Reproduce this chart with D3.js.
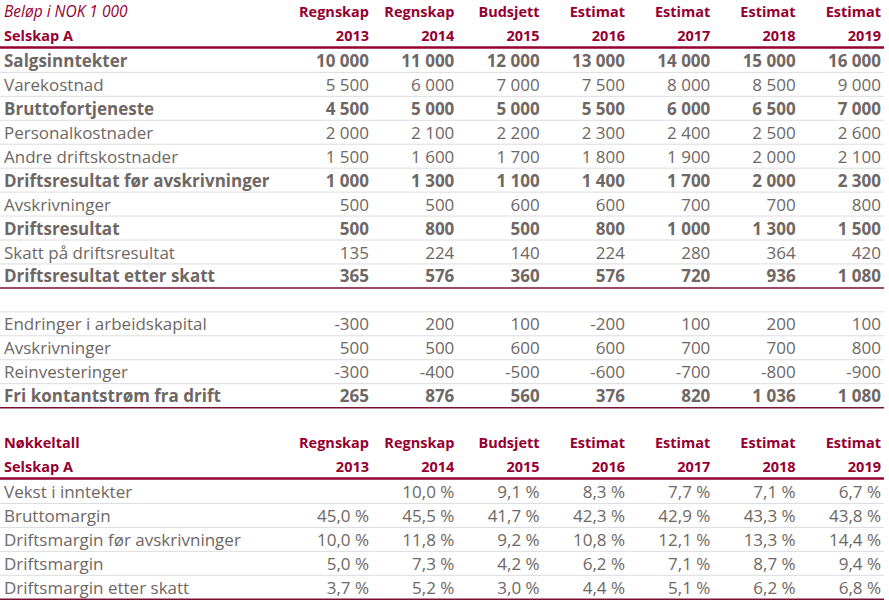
<!DOCTYPE html>
<html><head><meta charset="utf-8">
<script src="https://cdn.jsdelivr.net/npm/d3@7"></script>
<style>
body{margin:0;background:#fff;}
text{font-family:"Open Sans",sans-serif;}
</style></head>
<body><svg id="c" width="889" height="606"></svg>
<script>
const headTop = ["Regnskap","Regnskap","Budsjett","Estimat","Estimat","Estimat","Estimat"];
const years = ["2013","2014","2015","2016","2017","2018","2019"];

const resLabels = ["Salgsinntekter","Varekostnad","Bruttofortjeneste","Personalkostnader","Andre driftskostnader","Driftsresultat før avskrivninger","Avskrivninger","Driftsresultat","Skatt på driftsresultat","Driftsresultat etter skatt"];
const resBold = [1,0,1,0,0,1,0,1,0,1];
const resValues = [
 [10000,11000,12000,13000,14000,15000,16000],
 [5500,6000,7000,7500,8000,8500,9000],
 [4500,5000,5000,5500,6000,6500,7000],
 [2000,2100,2200,2300,2400,2500,2600],
 [1500,1600,1700,1800,1900,2000,2100],
 [1000,1300,1100,1400,1700,2000,2300],
 [500,500,600,600,700,700,800],
 [500,800,500,800,1000,1300,1500],
 [135,224,140,224,280,364,420],
 [365,576,360,576,720,936,1080]
];
const cfLabels = ["Endringer i arbeidskapital","Avskrivninger","Reinvesteringer","Fri kontantstrøm fra drift"];
const cfBold = [0,0,0,1];
const cfValues = [
 [-300,200,100,-200,100,200,100],
 [500,500,600,600,700,700,800],
 [-300,-400,-500,-600,-700,-800,-900],
 [265,876,560,376,820,1036,1080]
];
const kLabels = ["Vekst i inntekter","Bruttomargin","Driftsmargin før avskrivninger","Driftsmargin","Driftsmargin etter skatt"];
const kValues = [
 [null,10.0,9.1,8.3,7.7,7.1,6.7],
 [45.0,45.5,41.7,42.3,42.9,43.3,43.8],
 [10.0,11.8,9.2,10.8,12.1,13.3,14.4],
 [5.0,7.3,4.2,6.2,7.1,8.7,9.4],
 [3.7,5.2,3.0,4.4,5.1,6.2,6.8]
];

const svg = d3.select("#c");
const W = 884;
const red = "#960030", grey = "#6f6763", lineGrey = "#dcdcdc";
const x = d3.scaleBand().domain(years).range([283.7, 881]).paddingInner(0);
const colRight = y => x(y) + x.bandwidth();
const y = d3.scaleLinear().domain([0, 1]).range([0, 23.95]);
const rowTop = i => y(i);

const fmtNum = v => (v < 0 ? "-" : "") + d3.format(",")(Math.abs(v)).replace(/,/g, " ");
const fmtPct = v => v == null ? "" : d3.format(".1f")(v).replace(".", ",") + " %";

const HS = 14.5, BS = 17;
function header(r0, l1, l2, l1Italic){
  const g = svg.append("g");
  g.append("text").attr("x",4).attr("y",rowTop(r0)+17).attr("fill",red)
    .attr("font-size", l1Italic ? 15.5 : HS).attr("font-style", l1Italic?"italic":"normal")
    .attr("font-weight", l1Italic?"normal":"bold").text(l1);
  g.append("text").attr("x",4).attr("y",rowTop(r0+1)+17).attr("fill",red)
    .attr("font-size",HS).attr("font-weight","bold").text(l2);
  g.selectAll(".h1").data(years).join("text").attr("x",d=>colRight(d)).attr("y",rowTop(r0)+17)
    .attr("text-anchor","end").attr("fill",red).attr("font-size",HS).attr("font-weight","bold")
    .text((d,i)=>headTop[i]);
  g.selectAll(".h2").data(years).join("text").attr("x",d=>colRight(d)).attr("y",rowTop(r0+1)+17)
    .attr("text-anchor","end").attr("fill",red).attr("font-size",HS).attr("font-weight","bold")
    .text(d=>d);
  g.append("line").attr("x1",0).attr("x2",W).attr("y1",rowTop(r0+2)-0.5).attr("y2",rowTop(r0+2)-0.5)
    .attr("stroke",red).attr("stroke-width",2.5);
}

function body(r0, labels, bold, values, fmt){
  labels.forEach((lab,i)=>{
    const t = rowTop(r0+i);
    const b = bold ? bold[i] : 0;
    svg.append("text").attr("x",4).attr("y",t+19).attr("fill",grey)
      .attr("font-size",BS).attr("font-weight", b?"bold":"normal").text(lab);
    svg.selectAll(null).data(values[i]).join("text")
      .attr("x",(d,j)=>colRight(years[j])).attr("y",t+19).attr("text-anchor","end")
      .attr("fill",grey).attr("font-size",BS).attr("font-weight", b?"bold":"normal")
      .text(d=>fmt(d));
    const last = i === labels.length-1;
    svg.append("line").attr("x1",0).attr("x2",W).attr("y1",rowTop(r0+i+1)+0.5).attr("y2",rowTop(r0+i+1)+0.5)
      .attr("stroke", last ? "#7a1030" : lineGrey).attr("stroke-width", last ? 1.5 : 1);
  });
}

header(0, "Beløp i NOK 1 000", "Selskap A", true);
body(2, resLabels, resBold, resValues, fmtNum);
svg.append("line").attr("x1",0).attr("x2",W).attr("y1",rowTop(13)+0.5).attr("y2",rowTop(13)+0.5).attr("stroke",lineGrey);
body(13, cfLabels, cfBold, cfValues, fmtNum);
header(18, "Nøkkeltall", "Selskap A", false);
body(20, kLabels, null, kValues, fmtPct);
</script></body></html>
